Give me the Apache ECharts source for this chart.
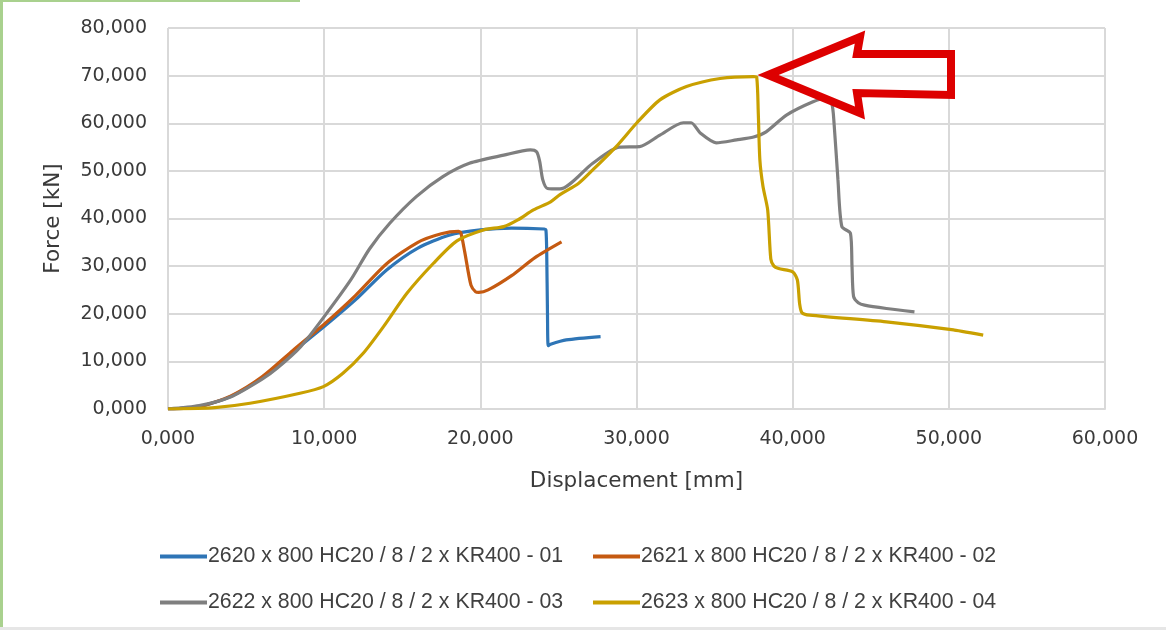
<!DOCTYPE html>
<html>
<head>
<meta charset="utf-8">
<script src="https://cdn.jsdelivr.net/npm/echarts@6/dist/echarts.min.js"></script>
<style>
html,body{margin:0;padding:0;background:#fff;}
#chart{width:1166px;height:630px;}
</style>
</head>
<body>
<div id="chart"></div>
<script>
// Displacement [mm] , Force [kN]
const xTicks = [0, 10, 20, 30, 40, 50, 60];
const yTicks = [0, 10, 20, 30, 40, 50, 60, 70, 80];

const seriesNames = [
  '2620 x 800 HC20 / 8 / 2 x KR400 - 01',
  '2621 x 800 HC20 / 8 / 2 x KR400 - 02',
  '2622 x 800 HC20 / 8 / 2 x KR400 - 03',
  '2623 x 800 HC20 / 8 / 2 x KR400 - 04'
];

const test01 = [[0,0],[2.0,0.5],[4.0,2.6],[6.0,6.5],[8.0,12.0],[10.0,17.3],[12.0,22.9],[14.0,29.2],[16.0,33.8],[18.0,36.5],[20.0,37.6],[22.0,38.0],[24.1,37.8],[24.2,37.6],[24.25,33.0],[24.3,20.0],[24.35,13.3],[24.5,13.6],[25.5,14.5],[27.7,15.2]];

const test02 = [[0,0],[2,0.5],[4,2.7],[6,6.7],[8,12.3],[10,17.8],[12,23.8],[14,30.5],[16,35.0],[17.5,36.8],[18.6,37.3],[18.75,37.0],[19.0,33.0],[19.4,26.0],[19.7,24.6],[19.9,24.5],[20.5,25.0],[22.0,28.0],[23.5,31.8],[25.2,35.1]];

const test03 = [[0,0],[2.0,0.7],[4.0,2.5],[6.0,6.2],[7.0,8.6],[8.5,13.1],[10.0,19.4],[11.7,27.1],[12.9,33.6],[14.2,39.0],[15.9,44.6],[17.6,48.8],[19.3,51.6],[21.5,53.3],[23.2,54.4],[23.6,54.0],[23.8,52.0],[24.0,48.1],[24.3,46.3],[25.1,46.2],[27.2,51.6],[28.9,55.0],[30.2,55.1],[31.5,57.5],[33.0,60.1],[33.5,60.1],[34.1,57.9],[35.1,55.9],[36.4,56.5],[37.5,57.1],[38.3,58.2],[39.6,61.7],[41.3,64.5],[42.1,65.2],[42.5,64.2],[42.65,60.0],[42.9,48.1],[43.15,38.3],[43.7,36.9],[43.8,30.0],[43.9,23.6],[44.2,22.3],[44.6,21.8],[46.0,21.1],[47.8,20.4]];

const test04 = [[0,0],[3.0,0.3],[5.25,1.2],[8.45,3.3],[9.95,4.7],[11.2,7.5],[12.5,11.7],[13.8,17.3],[15.3,24.3],[17.0,30.6],[18.5,35.3],[20.2,37.6],[21.5,38.3],[22.4,39.7],[23.4,41.8],[24.5,43.5],[25.1,45.0],[26.3,47.4],[27.2,50.2],[28.7,55.1],[30.0,60.0],[31.5,64.9],[33.2,67.7],[35.35,69.4],[37.5,69.8],[37.7,69.6],[37.8,62.0],[37.9,52.3],[38.1,46.7],[38.4,41.8],[38.6,31.5],[38.8,30.0],[39.1,29.5],[40.0,28.8],[40.3,27.1],[40.45,22.0],[40.6,20.2],[41.1,19.7],[46.0,18.3],[50.3,16.6],[52.2,15.5]];

const seriesData = [test01, test02, test03, test04];
const colors = ['#2e75b6', '#c55a11', '#7f7f7f', '#c9a000'];

const fmt = v => v.toFixed(3).replace('.', ',');

const chart = echarts.init(document.getElementById('chart'));

const legendPos = [[155, 541], [588, 541], [155, 587], [588, 587]];
const legends = seriesNames.map((n, i) => ({
  data: [n],
  left: legendPos[i][0],
  top: legendPos[i][1],
  icon: 'rect',
  itemWidth: 47,
  itemHeight: 4,
  itemGap: 0,
  selectedMode: false,
  textStyle: {fontFamily: 'Liberation Sans, sans-serif', fontSize: 21.3, color: '#404040', padding: [0,0,0,-4]}
}));

chart.setOption({
  animation: false,
  backgroundColor: '#ffffff',
  color: colors,
  grid: {left: 168, right: 61, top: 28, bottom: 221},
  legend: legends,
  xAxis: {
    type: 'value', min: 0, max: 60, interval: 10,
    name: 'Displacement [mm]', nameLocation: 'middle', nameGap: 61,
    nameTextStyle: {fontFamily: 'DejaVu Sans', fontSize: 21.5, color: '#3a3a3a'},
    axisLine: {show: true, lineStyle: {color: '#d9d9d9', width: 2}},
    axisTick: {show: false},
    axisLabel: {formatter: fmt, margin: 21, fontFamily: 'DejaVu Sans', fontSize: 19, color: '#3a3a3a'},
    splitLine: {show: true, lineStyle: {color: '#d9d9d9', width: 2}}
  },
  yAxis: {
    type: 'value', min: 0, max: 80, interval: 10,
    name: 'Force [kN]', nameLocation: 'middle', nameGap: 104,
    nameTextStyle: {fontFamily: 'DejaVu Sans', fontSize: 21.5, color: '#3a3a3a'},
    axisLine: {show: false},
    axisTick: {show: false},
    axisLabel: {formatter: fmt, margin: 21, fontFamily: 'DejaVu Sans', fontSize: 19, color: '#3a3a3a'},
    splitLine: {show: true, lineStyle: {color: '#d9d9d9', width: 2}}
  },
  series: seriesData.map((d, i) => ({
    name: seriesNames[i],
    type: 'line',
    data: d,
    showSymbol: false,
    symbol: 'none',
    smooth: 0.25,
    lineStyle: {width: 3.2, color: colors[i]},
    z: 2 + i
  })),
  graphic: [
    {type: 'rect', shape: {x: 0, y: 0, width: 3, height: 630}, style: {fill: '#a9d18e'}},
    {type: 'rect', shape: {x: 0, y: 0, width: 300, height: 2}, style: {fill: '#a9d18e'}},
    {type: 'rect', shape: {x: 0, y: 627, width: 1166, height: 3}, style: {fill: '#e6e6e6'}},
    {type: 'polygon', z: 100,
     shape: {points: [[768,75],[860,37],[857,54],[951,54],[951,95],[857,93],[860,113]]},
     style: {fill: 'none', stroke: '#dd0000', lineWidth: 8, lineJoin: 'miter', miterLimit: 3}}
  ]
});
</script>
</body>
</html>
